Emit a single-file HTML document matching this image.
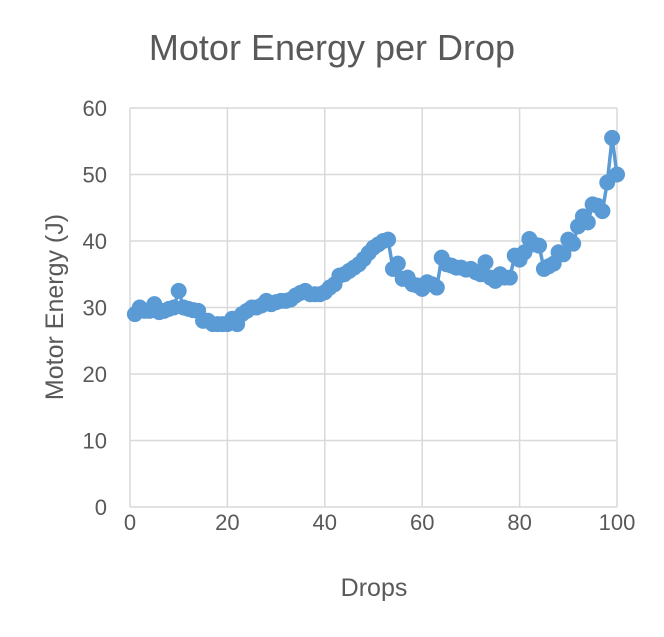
<!DOCTYPE html>
<html><head><meta charset="utf-8"><style>
body{margin:0;background:#fff;}
svg text{font-family:"Liberation Sans",sans-serif;fill:#595959;}
</style></head><body>
<svg id="chart" width="664" height="632">
<text x="332" y="60" text-anchor="middle" font-size="36">Motor Energy per Drop</text>
<g id="grid"></g>
<g id="series"></g>
<text x="374" y="596" text-anchor="middle" font-size="25">Drops</text>
<text transform="translate(63,307) rotate(-90)" text-anchor="middle" font-size="25">Motor Energy (J)</text>
</svg>
<script>
const xTicks=[0,20,40,60,80,100];
const yTicks=[0,10,20,30,40,50,60];
const drops=[];for(let i=1;i<=100;i++)drops.push(i);
const energy=[29,30,29.5,29.5,30.5,29.3,29.5,29.8,30,32.5,30,29.8,29.6,29.5,28,28,27.5,27.5,27.5,27.5,28.3,27.5,29,29.5,30,30,30.3,31,30.5,30.8,31,31,31.2,31.8,32.2,32.5,32,32,32,32.3,33,33.5,34.8,35,35.5,36,36.5,37.3,38.2,39,39.5,40,40.2,35.8,36.6,34.3,34.5,33.5,33.3,32.8,33.8,33.5,33,37.5,36.5,36.3,36,36,35.7,35.8,35.3,35,36.8,34.5,34,35,34.5,34.5,37.8,37.2,38.3,40.3,39.5,39.3,35.8,36.2,36.6,38.3,38,40.2,39.6,42.2,43.7,42.8,45.5,45.3,44.5,48.8,55.5,50];
const NS='http://www.w3.org/2000/svg';
const x=v=>130+v*(617-130)/100;
const y=v=>507-v*(507-108)/60;
const grid=document.getElementById('grid'),ser=document.getElementById('series');
function mk(t,a,p){const e=document.createElementNS(NS,t);for(const k in a)e.setAttribute(k,a[k]);p.appendChild(e);return e;}
xTicks.forEach(t=>{
 const l=mk('line',{x1:x(t),x2:x(t),y1:108,y2:507,stroke:'#d9d9d9','stroke-width':1.5},grid);
 
 
 const tx=mk('text',{x:x(t),y:530,'text-anchor':'middle','font-size':22},grid);tx.textContent=t;
 
 
});
yTicks.forEach(t=>{
 const l=mk('line',{x1:130,x2:617,y1:y(t),y2:y(t),stroke:'#d9d9d9','stroke-width':1.5},grid);
 
 
 const tx=mk('text',{x:107,y:y(t)+8,'text-anchor':'end','font-size':22},grid);tx.textContent=t;
 
 
});
const pts=drops.map((d,i)=>x(d)+','+y(energy[i])).join(' ');
const pl=mk('polyline',{points:pts,fill:'none',stroke:'#5b9bd5','stroke-width':3.5},ser);


drops.forEach((d,i)=>{
 const c=mk('circle',{cx:x(d),cy:y(energy[i]),r:8,fill:'#5b9bd5'},ser);
 
 
});
</script>
</body></html>
